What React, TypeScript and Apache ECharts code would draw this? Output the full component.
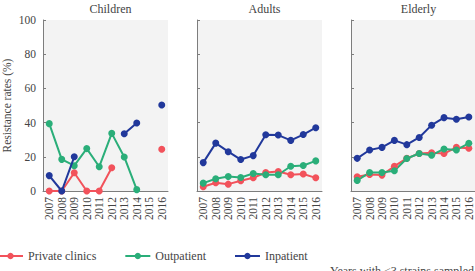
import React, { useEffect, useRef } from "react";
import * as echarts from "echarts";

const years = ["2007", "2008", "2009", "2010", "2011", "2012", "2013", "2014", "2015", "2016"];
const panels = ["Children", "Adults", "Elderly"];
const seriesNames = ["Private clinics", "Outpatient", "Inpatient"];
const seriesColors = ["#f2525b", "#2aae79", "#21389b"];
const yTicks = [0, 20, 40, 60, 80, 100];

// Resistance rates (%) per age group, ordered as seriesNames
const childrenPrivate = [0, 0, 10.7, 0, 0, 13.6, null, null, null, 24.4];
const childrenOutpatient = [39.4, 18.5, 14.8, 24.8, 14.2, 33.7, 19.9, 0.8, null, null];
const childrenInpatient = [9, 0, 20, null, null, null, 33.5, 39.8, null, 50.3];

const adultsPrivate = [2.5, 4.8, 4, 6, 7.7, 10.8, 11.4, 9.5, 9.9, 7.7];
const adultsOutpatient = [4.6, 7.2, 8.5, 7.9, 10.2, 9.5, 9.5, 14.5, 14.9, 17.6];
const adultsInpatient = [16.6, 28, 23, 18.4, 20.7, 32.9, 32.7, 29.6, 33, 37];

const elderlyPrivate = [8.3, 9.7, 9.3, 14.5, 19.1, 21.9, 22.4, 21.9, 25.5, 25];
const elderlyOutpatient = [6.2, 10.8, 10.8, 11.8, 19, 21.9, 20.9, 24.6, 24, 27.9];
const elderlyInpatient = [19.1, 24, 25.5, 29.6, 27.1, 31.3, 38.5, 42.9, 42, 43.3];

const panelData = [
  [childrenPrivate, childrenOutpatient, childrenInpatient],
  [adultsPrivate, adultsOutpatient, adultsInpatient],
  [elderlyPrivate, elderlyOutpatient, elderlyInpatient],
];

const FONT = "'Liberation Serif', serif";
const gridLefts = [43, 197, 351];
const gridWidth = 125;
const gridTop = 20;
const gridHeight = 171;

export default function App() {
  const ref = useRef<HTMLDivElement>(null);

  useEffect(() => {
    if (!ref.current) return;
    const chart = echarts.init(ref.current, undefined, { renderer: "svg" });

    const grids = gridLefts.map((left) => ({
      left,
      top: gridTop,
      width: gridWidth,
      height: gridHeight,
      show: true,
      backgroundColor: "#f3f3f3",
      borderWidth: 0,
    }));

    const xAxes = panels.map((_, i) => ({
      type: "category",
      gridIndex: i,
      data: years,
      boundaryGap: true,
      axisLine: { lineStyle: { color: "#7d7d7d", width: 1 } },
      axisTick: { alignWithLabel: true, inside: true, length: 3, lineStyle: { color: "#7d7d7d" } },
      axisLabel: {
        rotate: 90,
        interval: 0,
        margin: 6,
        fontFamily: FONT,
        fontSize: 11.5,
        color: "#444",
      },
    }));

    const yAxes = panels.map((_, i) => ({
      type: "value",
      gridIndex: i,
      min: 0,
      max: yTicks[yTicks.length - 1],
      interval: yTicks[1] - yTicks[0],
      name: i === 0 ? "Resistance rates (%)" : "",
      nameLocation: "middle",
      nameGap: 30,
      nameRotate: 90,
      nameTextStyle: { fontFamily: FONT, fontSize: 11.5, color: "#444" },
      splitLine: { show: false },
      axisLine: { show: true, lineStyle: { color: "#7d7d7d", width: 1 } },
      axisTick: { show: true, inside: true, length: 3, lineStyle: { color: "#7d7d7d" } },
      axisLabel: {
        show: i === 0,
        margin: 7,
        fontFamily: FONT,
        fontSize: 11.5,
        color: "#444",
      },
    }));

    const series: any[] = [];
    panelData.forEach((group, p) => {
      group.forEach((values, s) => {
        series.push({
          name: seriesNames[s],
          type: "line",
          xAxisIndex: p,
          yAxisIndex: p,
          data: values,
          connectNulls: false,
          symbol: "circle",
          symbolSize: 7,
          showSymbol: true,
          color: seriesColors[s],
          lineStyle: { width: 2, color: seriesColors[s] },
          itemStyle: { color: seriesColors[s] },
          z: s === 2 ? 3 : 2,
        });
      });
    });

    chart.setOption({
      animation: false,
      backgroundColor: "#ffffff",
      textStyle: { fontFamily: FONT },
      title: panels.map((t, i) => ({
        text: t,
        left: gridLefts[i] + gridWidth / 2,
        textAlign: "center",
        top: -2,
        textStyle: { fontFamily: FONT, fontSize: 12, fontWeight: 400, color: "#444" },
      })),
      legend: {
        data: seriesNames,
        left: -8,
        top: 245,
        itemWidth: 25,
        itemHeight: 8,
        itemGap: 28,
        textStyle: { fontFamily: FONT, fontSize: 12, color: "#444" },
      },
      graphic: [
        {
          type: "text",
          left: 330,
          top: 265,
          style: {
            text: "Years with ≤3 strains sampled",
            fontFamily: FONT,
            fontSize: 12,
            fill: "#444",
          },
        },
      ],
      grid: grids,
      xAxis: xAxes,
      yAxis: yAxes,
      series,
    });

    return () => chart.dispose();
  }, []);

  return <div ref={ref} style={{ width: 475, height: 271, position: "fixed", left: 0, top: 0 }} />;
}
